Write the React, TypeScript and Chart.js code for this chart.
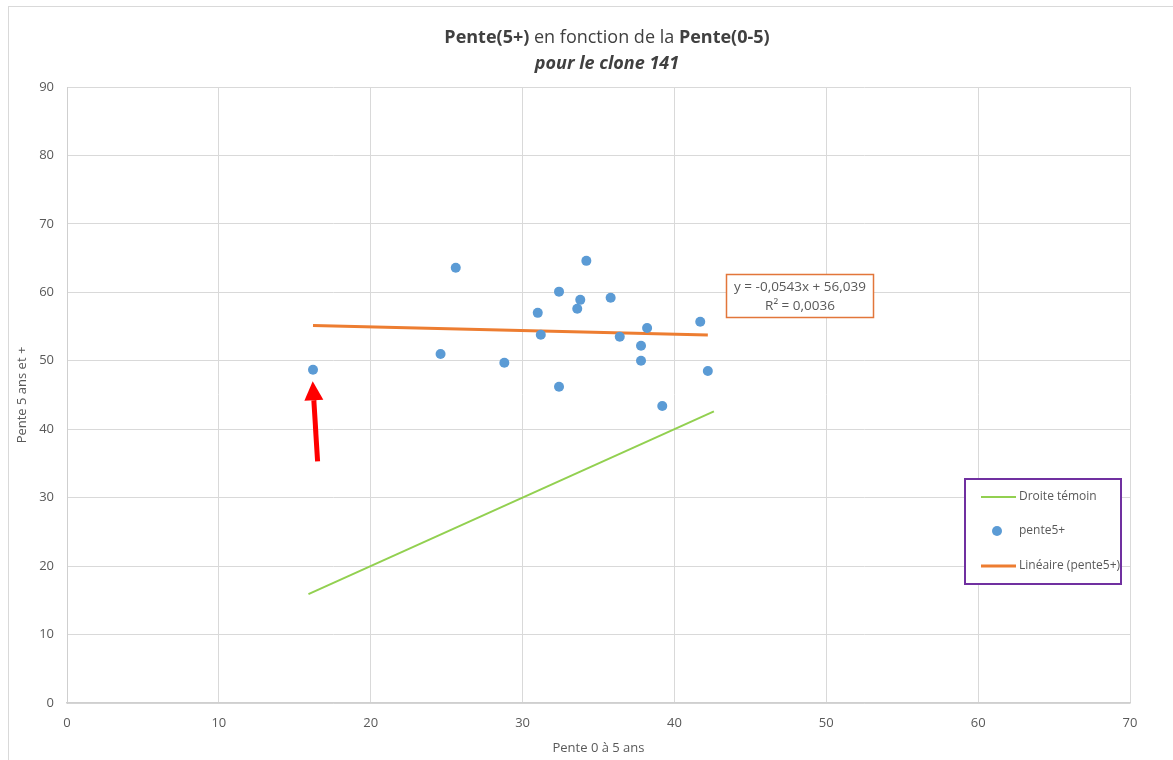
import React, { useEffect, useRef } from "react";
import { Chart, registerables } from "chart.js";

Chart.register(...registerables);

// ---- Data ----
const PENTE_0_5 = [16.2, 24.6, 25.6, 28.8, 31.0, 31.2, 32.4, 32.4, 33.6, 33.8, 34.2, 35.8, 36.4, 37.8, 37.8, 38.2, 39.2, 41.7, 42.2];
const PENTE_5_PLUS = [48.7, 51.0, 63.6, 49.7, 57.0, 53.8, 60.1, 46.2, 57.6, 58.9, 64.6, 59.2, 53.5, 52.2, 50.0, 54.8, 43.4, 55.7, 48.5];

const TEMOIN_X = [15.9, 42.6];
const TEMOIN_Y = [15.9, 42.6];

const TREND_X = [16.2, 42.2];
const TREND_Y = [55.16, 53.75];

const TREND_EQUATION = "y = -0,0543x + 56,039";
const TREND_R2 = "R² = 0,0036";

const ARROW_TAIL = [16.5, 35.3];
const ARROW_HEAD = [16.18, 47.0];

const X_TICKS = [0, 10, 20, 30, 40, 50, 60, 70];
const Y_TICKS = [0, 10, 20, 30, 40, 50, 60, 70, 80, 90];

const LABEL_TEMOIN = "Droite témoin";
const LABEL_POINTS = "pente5+";
const LABEL_TREND = "Linéaire (pente5+)";

const TITLE_PARTS: [string, boolean][] = [
  ["Pente(5+)", true],
  [" en fonction de la ", false],
  ["Pente(0-5)", true],
];
const SUBTITLE = "pour le clone 141";
const X_TITLE = "Pente 0 à 5 ans";
const Y_TITLE = "Pente 5 ans et +";

// ---- Styles ----
const FONT = "'Open Sans', 'Noto Sans', sans-serif";
const GREEN = "#92D050";
const BLUE = "#5B9BD5";
const ORANGE = "#ED7D31";
const TEXT = "#595959";
const GRID = "#D9D9D9";

const overlayPlugin = {
  id: "overlay",
  beforeDraw(chart: any) {
    const ctx = chart.ctx;
    ctx.save();
    ctx.fillStyle = "#ffffff";
    ctx.fillRect(0, 0, chart.width, chart.height);
    ctx.strokeStyle = GRID;
    ctx.lineWidth = 1;
    ctx.strokeRect(8.5, 6.5, chart.width + 20, chart.height + 20);
    ctx.restore();
  },
  afterDraw(chart: any) {
    const ctx = chart.ctx;
    const xs = chart.scales.x;
    const ys = chart.scales.y;
    ctx.save();

    // Title
    const cx = 607;
    ctx.fillStyle = "#404040";
    ctx.textBaseline = "middle";
    ctx.textAlign = "left";
    const fontFor = (b: boolean) => `${b ? "bold " : ""}18px ${FONT}`;
    let total = 0;
    for (const [t, b] of TITLE_PARTS) {
      ctx.font = fontFor(b);
      total += ctx.measureText(t).width;
    }
    let tx = cx - total / 2;
    for (const [t, b] of TITLE_PARTS) {
      ctx.font = fontFor(b);
      ctx.fillText(t, tx, 38);
      tx += ctx.measureText(t).width;
    }
    ctx.font = `italic bold 18px ${FONT}`;
    ctx.textAlign = "center";
    ctx.fillText(SUBTITLE, cx, 64);

    // Red arrow
    const x1 = xs.getPixelForValue(ARROW_TAIL[0]);
    const y1 = ys.getPixelForValue(ARROW_TAIL[1]);
    const x2 = xs.getPixelForValue(ARROW_HEAD[0]);
    const y2 = ys.getPixelForValue(ARROW_HEAD[1]);
    const ang = Math.atan2(y2 - y1, x2 - x1);
    const headLen = 19;
    const headHalf = 9.5;
    const bx = x2 - headLen * Math.cos(ang);
    const by = y2 - headLen * Math.sin(ang);
    ctx.strokeStyle = "#FF0000";
    ctx.fillStyle = "#FF0000";
    ctx.lineWidth = 5;
    ctx.beginPath();
    ctx.moveTo(x1, y1);
    ctx.lineTo(bx, by);
    ctx.stroke();
    ctx.beginPath();
    ctx.moveTo(x2, y2);
    ctx.lineTo(bx + headHalf * Math.sin(ang), by - headHalf * Math.cos(ang));
    ctx.lineTo(bx - headHalf * Math.sin(ang), by + headHalf * Math.cos(ang));
    ctx.closePath();
    ctx.fill();

    // Equation box
    ctx.fillStyle = "#ffffff";
    ctx.fillRect(726, 274, 148, 44);
    ctx.strokeStyle = "#E2763A";
    ctx.lineWidth = 1.5;
    ctx.strokeRect(726.5, 274.5, 147, 43);
    ctx.fillStyle = TEXT;
    ctx.font = `13.5px ${FONT}`;
    ctx.textAlign = "center";
    ctx.fillText(TREND_EQUATION, 800, 287);
    ctx.fillText(TREND_R2, 800, 306);

    // Legend
    ctx.fillStyle = "#ffffff";
    ctx.fillRect(965, 479, 156, 105);
    ctx.strokeStyle = "#7030A0";
    ctx.lineWidth = 2;
    ctx.strokeRect(965, 479, 156, 105);
    ctx.font = `12px ${FONT}`;
    ctx.textAlign = "left";
    ctx.fillStyle = TEXT;
    // item 1
    ctx.strokeStyle = GREEN;
    ctx.lineWidth = 2;
    ctx.beginPath();
    ctx.moveTo(981, 497);
    ctx.lineTo(1016, 497);
    ctx.stroke();
    ctx.fillText(LABEL_TEMOIN, 1019, 497);
    // item 2
    ctx.fillStyle = BLUE;
    ctx.beginPath();
    ctx.arc(997, 531, 5, 0, Math.PI * 2);
    ctx.fill();
    ctx.fillStyle = TEXT;
    ctx.fillText(LABEL_POINTS, 1019, 531);
    // item 3
    ctx.strokeStyle = ORANGE;
    ctx.lineWidth = 3;
    ctx.beginPath();
    ctx.moveTo(981, 566);
    ctx.lineTo(1016, 566);
    ctx.stroke();
    ctx.fillText(LABEL_TREND, 1019, 566);

    ctx.restore();
  },
};

export default function App() {
  const ref = useRef<HTMLCanvasElement | null>(null);

  useEffect(() => {
    document.body.style.margin = "0";
    if (!ref.current) return;

    const temoin = TEMOIN_X.map((x, i) => ({ x, y: TEMOIN_Y[i] }));
    const points = PENTE_0_5.map((x, i) => ({ x, y: PENTE_5_PLUS[i] }));
    const trend = TREND_X.map((x, i) => ({ x, y: TREND_Y[i] }));

    const chart = new Chart(ref.current, {
      type: "scatter",
      data: {
        datasets: [
          {
            label: LABEL_TEMOIN,
            data: temoin,
            showLine: true,
            borderColor: GREEN,
            borderWidth: 2,
            pointRadius: 0,
            order: 3,
          },
          {
            label: LABEL_TREND,
            data: trend,
            showLine: true,
            borderColor: ORANGE,
            borderWidth: 3,
            pointRadius: 0,
            order: 2,
          },
          {
            label: LABEL_POINTS,
            data: points,
            backgroundColor: BLUE,
            borderWidth: 0,
            pointRadius: 5,
            order: 1,
          },
        ],
      } as any,
      options: {
        animation: false,
        responsive: true,
        maintainAspectRatio: false,
        layout: { padding: { top: 87, right: 43, left: 0, bottom: 0 } },
        plugins: {
          legend: { display: false },
          tooltip: { enabled: false },
          title: { display: false },
        },
        scales: {
          x: {
            type: "linear",
            min: 0,
            max: 70,
            afterBuildTicks: (s: any) => {
              s.ticks = X_TICKS.map((v) => ({ value: v }));
            },
            afterFit: (s: any) => {
              s.height = 57;
            },
            grid: { color: GRID, drawTicks: false },
            border: { color: "#CFCFCF", width: 1.5 },
            ticks: { color: TEXT, font: { family: FONT, size: 13 }, padding: 12 },
            title: {
              display: true,
              text: X_TITLE,
              color: TEXT,
              font: { family: FONT, size: 13 },
              padding: { top: 0, bottom: 4 },
            },
          },
          y: {
            type: "linear",
            min: 0,
            max: 90,
            afterBuildTicks: (s: any) => {
              s.ticks = Y_TICKS.map((v) => ({ value: v }));
            },
            afterFit: (s: any) => {
              s.width = 67;
            },
            grid: { color: GRID, drawTicks: false },
            border: { color: "#CFCFCF", width: 1 },
            ticks: { color: TEXT, font: { family: FONT, size: 13 }, padding: 13 },
            title: {
              display: true,
              text: Y_TITLE,
              color: TEXT,
              font: { family: FONT, size: 13 },
              padding: { top: 14, bottom: 0 },
            },
          },
        },
      } as any,
      plugins: [overlayPlugin],
    });

    return () => chart.destroy();
  }, []);

  return (
    <div style={{ position: "relative", width: 1173, height: 760 }}>
      <canvas ref={ref} />
    </div>
  );
}
